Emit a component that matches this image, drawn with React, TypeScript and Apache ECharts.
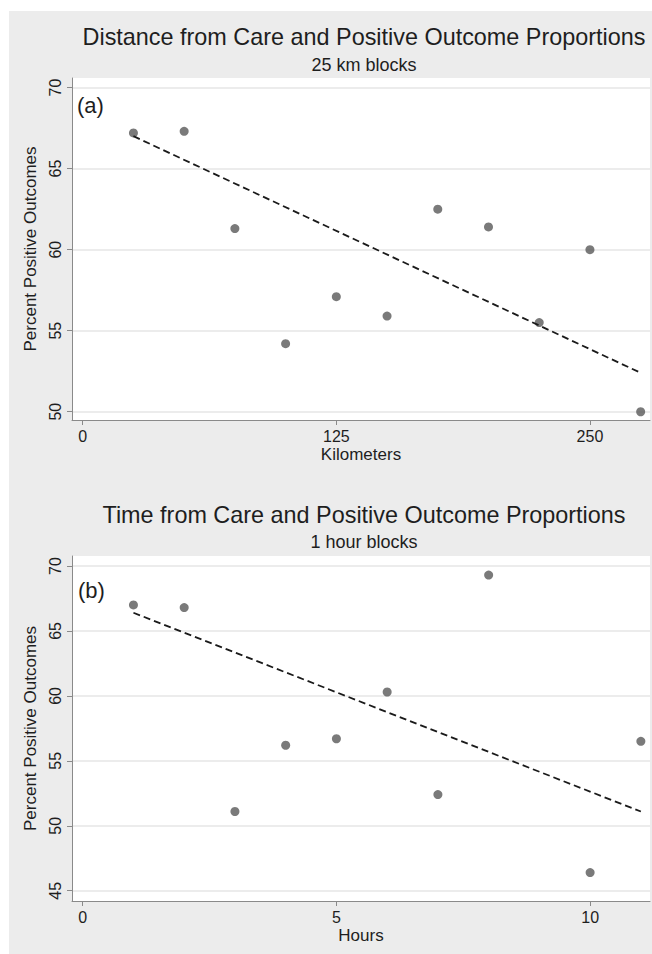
import React, { useEffect, useRef } from "react";
import * as echarts from "echarts";

// Panel (a): distance from care, 25 km blocks
const kmBlocks = [25, 50, 75, 100, 125, 150, 175, 200, 225, 250, 275];
const kmPositive = [67.2, 67.3, 61.3, 54.2, 57.1, 55.9, 62.5, 61.4, 55.5, 60.0, 50.0];
const kmFitX = [25, 275];
const kmFitY = [67.0, 52.4];
const kmTicks = [0, 125, 250];
const kmYTicks = [50, 55, 60, 65, 70];

// Panel (b): time from care, 1 hour blocks
const hourBlocks = [1, 2, 3, 4, 5, 6, 7, 8, 10, 11];
const hourPositive = [67.0, 66.8, 51.1, 56.2, 56.7, 60.3, 52.4, 69.3, 46.4, 56.5];
const hourFitX = [1, 11];
const hourFitY = [66.4, 51.1];
const hourTicks = [0, 5, 10];
const hourYTicks = [45, 50, 55, 60, 65, 70];

const FONT = "'Liberation Sans', Arial, sans-serif";
const TXT = "#1e1e1e";
const AXIS = "#8a8a8a";
const GRIDC = "#e6e6e6";
const DOT = "#595959";

function xAxisCfg(gridIndex: number, min: number, max: number, ticks: number[], name: string) {
  return {
    type: "value",
    gridIndex,
    min,
    max,
    name,
    nameLocation: "middle",
    nameGap: 26,
    nameTextStyle: { fontFamily: FONT, fontSize: 17, color: TXT },
    axisLine: { show: true, onZero: false, lineStyle: { color: AXIS, width: 1 } },
    axisTick: { show: true, inside: false, length: 5, customValues: ticks, lineStyle: { color: AXIS } },
    axisLabel: { customValues: ticks, margin: 8, fontFamily: FONT, fontSize: 16, color: TXT },
    splitLine: { show: false },
  };
}

function yAxisCfg(gridIndex: number, min: number, max: number, ticks: number[]) {
  return {
    type: "value",
    gridIndex,
    min,
    max,
    name: "Percent Positive Outcomes",
    nameLocation: "middle",
    nameGap: 29,
    nameTextStyle: { fontFamily: FONT, fontSize: 17, color: TXT },
    axisLine: { show: true, onZero: false, lineStyle: { color: AXIS, width: 1 } },
    axisTick: { show: true, inside: false, length: 5, customValues: ticks, lineStyle: { color: AXIS } },
    axisLabel: { customValues: ticks, rotate: 90, margin: 9, fontFamily: FONT, fontSize: 16, color: TXT },
    splitLine: { show: true, lineStyle: { color: GRIDC, width: 1.5 } },
  };
}

function pairs(xs: number[], ys: number[]) {
  return xs.map((x, i) => [x, ys[i]]);
}

export default function App() {
  const ref = useRef<HTMLDivElement>(null);
  useEffect(() => {
    const chart = echarts.init(ref.current!, null, { renderer: "svg" });
    const option: any = {
      animation: false,
      backgroundColor: "#ececec",
      textStyle: { fontFamily: FONT },
      graphic: [
        { type: "rect", left: 0, top: 0, shape: { width: 652, height: 11 }, style: { fill: "#ffffff" }, silent: true },
        { type: "rect", left: 0, top: 0, shape: { width: 9, height: 954 }, style: { fill: "#ffffff" }, silent: true },
        { type: "text", x: 364, y: 37, style: { text: "Distance from Care and Positive Outcome Proportions", font: `23.4px ${FONT}`, fill: TXT, textAlign: "center", textVerticalAlign: "middle" } },
        { type: "text", x: 364, y: 65, style: { text: "25 km blocks", font: `18px ${FONT}`, fill: TXT, textAlign: "center", textVerticalAlign: "middle" } },
        { type: "text", x: 364, y: 515, style: { text: "Time from Care and Positive Outcome Proportions", font: `23.4px ${FONT}`, fill: TXT, textAlign: "center", textVerticalAlign: "middle" } },
        { type: "text", x: 364, y: 542, style: { text: "1 hour blocks", font: `18px ${FONT}`, fill: TXT, textAlign: "center", textVerticalAlign: "middle" } },
        { type: "text", x: 77, y: 105, z: 10, style: { text: "(a)", font: `22px ${FONT}`, fill: TXT, textAlign: "left", textVerticalAlign: "middle" } },
        { type: "text", x: 78, y: 590, z: 10, style: { text: "(b)", font: `22px ${FONT}`, fill: TXT, textAlign: "left", textVerticalAlign: "middle" } },
      ],
      grid: [
        { left: 72, top: 78, width: 578, height: 342, show: true, backgroundColor: "#ffffff", borderWidth: 0 },
        { left: 72, top: 556, width: 578, height: 345, show: true, backgroundColor: "#ffffff", borderWidth: 0 },
      ],
      xAxis: [
        xAxisCfg(0, -5.28, 279.6, kmTicks, "Kilometers"),
        xAxisCfg(1, -0.211, 11.18, hourTicks, "Hours"),
      ],
      yAxis: [
        yAxisCfg(0, 49.49, 70.59, kmYTicks),
        yAxisCfg(1, 44.21, 70.77, hourYTicks),
      ],
      series: [
        {
          type: "scatter", xAxisIndex: 0, yAxisIndex: 0, symbol: "circle", symbolSize: 9,
          itemStyle: { color: DOT }, data: pairs(kmBlocks, kmPositive), z: 3,
        },
        {
          type: "line", xAxisIndex: 0, yAxisIndex: 0, symbol: "none", z: 4,
          lineStyle: { color: "#1a1a1a", width: 1.8, type: [7, 4] }, data: pairs(kmFitX, kmFitY),
        },
        {
          type: "scatter", xAxisIndex: 1, yAxisIndex: 1, symbol: "circle", symbolSize: 9,
          itemStyle: { color: DOT }, data: pairs(hourBlocks, hourPositive), z: 3,
        },
        {
          type: "line", xAxisIndex: 1, yAxisIndex: 1, symbol: "none", z: 4,
          lineStyle: { color: "#1a1a1a", width: 1.8, type: [7, 4] }, data: pairs(hourFitX, hourFitY),
        },
      ],
    };
    chart.setOption(option);
    return () => chart.dispose();
  }, []);
  return (
    <div
      ref={ref}
      style={{ position: "absolute", left: 0, top: 0, width: 652, height: 954 }}
    />
  );
}
